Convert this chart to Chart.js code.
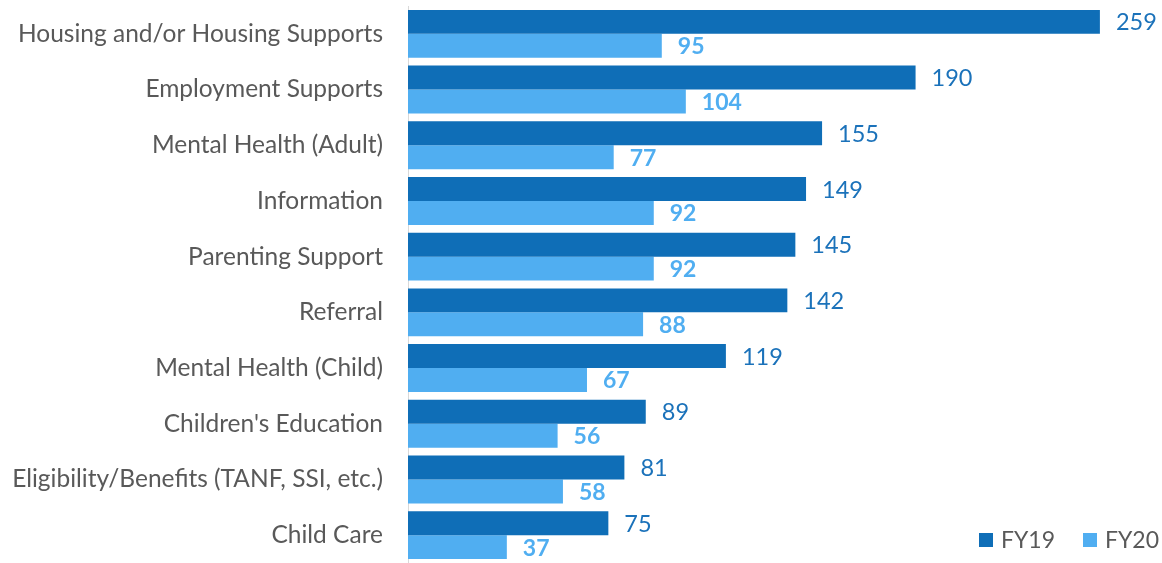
<!DOCTYPE html>
<html>
<head>
<meta charset="utf-8">
<script src="https://cdn.jsdelivr.net/npm/chart.js@4/dist/chart.umd.min.js"></script>
<style>
  html, body { margin: 0; padding: 0; background: #ffffff; }
  #wrap { width: 1162px; height: 563px; position: relative; }
</style>
</head>
<body>
<div id="wrap"><canvas id="c" width="1162" height="563"></canvas></div>
<script>
const categories = [
  "Housing and/or Housing Supports",
  "Employment Supports",
  "Mental Health (Adult)",
  "Information",
  "Parenting Support",
  "Referral",
  "Mental Health (Child)",
  "Children's Education",
  "Eligibility/Benefits (TANF, SSI, etc.)",
  "Child Care"
];
const fy19 = [259, 190, 155, 149, 145, 142, 119, 89, 81, 75];
const fy20 = [95, 104, 77, 92, 92, 88, 67, 56, 58, 37];
const seriesNames = ["FY19", "FY20"];

const DARK = "#0F6EB7";
const LIGHT = "#50AEF1";
const DARK_TEXT = "#1B72BA";
const LIGHT_TEXT = "#50AEF1";
const FONT = "Lato, 'Open Sans', sans-serif";

// Value labels to the right of each bar
const valueLabels = {
  id: "valueLabels",
  afterDatasetsDraw(chart) {
    const ctx = chart.ctx;
    ctx.save();
    ctx.textBaseline = "middle";
    ctx.textAlign = "left";
    chart.data.datasets.forEach((ds, di) => {
      const meta = chart.getDatasetMeta(di);
      ctx.font = (di === 0 ? "normal 23.5px " : "bold 23px ") + FONT;
      ctx.fillStyle = di === 0 ? DARK_TEXT : LIGHT_TEXT;
      meta.data.forEach((bar, i) => {
        ctx.fillText(String(ds.data[i]), bar.x + 16, bar.y + 1);
      });
    });
    ctx.restore();
  }
};

// Legend drawn in the lower right corner of the plot
const cornerLegend = {
  id: "cornerLegend",
  afterDraw(chart) {
    const ctx = chart.ctx;
    ctx.save();
    ctx.font = "23px " + FONT;
    ctx.textBaseline = "middle";
    ctx.textAlign = "left";
    const xs = [979, 1083];
    const y = 540;
    chart.data.datasets.forEach((ds, di) => {
      ctx.fillStyle = ds.backgroundColor;
      ctx.fillRect(xs[di], y - 7, 14, 14);
      ctx.fillStyle = "#595959";
      ctx.fillText(ds.label, xs[di] + 22, y + 1);
    });
    ctx.restore();
  }
};

new Chart(document.getElementById("c"), {
  type: "bar",
  data: {
    labels: categories,
    datasets: [
      { label: seriesNames[0], data: fy19, backgroundColor: DARK, borderWidth: 0 },
      { label: seriesNames[1], data: fy20, backgroundColor: LIGHT, borderWidth: 0 }
    ]
  },
  options: {
    indexAxis: "y",
    responsive: false,
    animation: false,
    devicePixelRatio: 1,
    layout: { padding: { top: 6, bottom: -3, left: 0, right: 6 } },
    datasets: { bar: { categoryPercentage: 0.86, barPercentage: 1.0 } },
    plugins: { legend: { display: false }, tooltip: { enabled: false } },
    scales: {
      x: { display: false, min: 0, max: 280 },
      y: {
        afterFit(scale) {
          scale.width = 408;
          scale.paddingTop = 0;
          scale.paddingBottom = 0;
        },
        grid: { display: false, drawTicks: false },
        border: { display: true, color: "#D9D9D9", width: 1 },
        ticks: { color: "#595959", font: { family: FONT, size: 24.5 }, padding: 25, autoSkip: false }
      }
    }
  },
  plugins: [valueLabels, cornerLegend]
});
</script>
</body>
</html>
